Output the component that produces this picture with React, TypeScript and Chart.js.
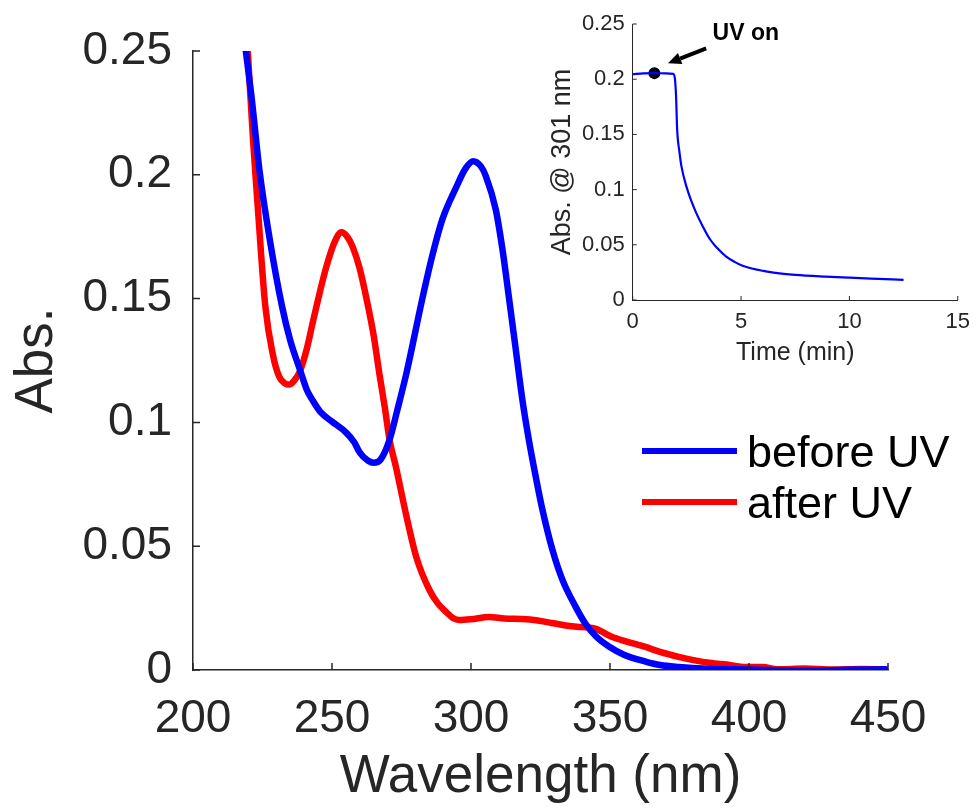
import React, { useEffect, useRef } from "react";
import { Chart, registerables } from "chart.js";

Chart.register(...registerables);

const FONT = "'Liberation Sans', Arial, Helvetica, sans-serif";
const AXIS = "#262626";

// ---- Main spectrum data ----
const beforeWavelength = [
  219, 221, 224, 227.6, 232, 235, 238.4, 241, 243, 246, 250, 255, 258, 260, 263, 265,
  267.5, 270.7, 273.5, 276.8, 282.5, 286, 289.7, 294.7, 298, 300.8, 303.5, 305.3, 308.9,
  311.3, 313.7, 316.1, 318.5, 320.8, 323.3, 325.7, 329.3, 332.9, 337.6, 341, 345, 349.6,
  355, 362.8, 368, 374.7, 385, 400, 420, 435, 449,
];
const beforeAbs = [
  0.25, 0.232, 0.201, 0.174, 0.147, 0.133, 0.1215, 0.113, 0.109, 0.104, 0.1003, 0.096,
  0.092, 0.0878, 0.0845, 0.0837, 0.085, 0.093, 0.105, 0.12, 0.15, 0.167, 0.182, 0.195,
  0.2025, 0.2055, 0.2035, 0.1996, 0.186, 0.17, 0.15, 0.1295, 0.109, 0.093, 0.078, 0.0647,
  0.0485, 0.0364, 0.0256, 0.019, 0.0135, 0.0095, 0.0062, 0.0034, 0.002, 0.0012, 0.0005,
  0.0002, -0.0003, 0.0001, 0.0003,
];
const afterWavelength = [
  219.7, 221.6, 223.3, 226, 228.8, 231, 233, 234.8, 236.5, 238.4, 241, 243, 245.5, 248,
  251, 253.4, 255.5, 257.4, 260, 262.4, 265, 267, 269, 270.7, 273, 276.8, 280.3, 285,
  288, 291, 293.5, 295.8, 300, 306.5, 312, 318.4, 324, 329, 334, 338.8, 342, 345, 350.6,
  356, 362.8, 368, 374.7, 380, 386.5, 392, 398.7, 405, 410, 420, 430, 440, 449,
];
const afterAbs = [
  0.25, 0.214, 0.187, 0.147, 0.127, 0.1185, 0.1158, 0.1153, 0.117, 0.1205, 0.13, 0.14,
  0.152, 0.163, 0.173, 0.1768, 0.175, 0.171, 0.162, 0.15, 0.135, 0.12, 0.106, 0.093,
  0.082, 0.062, 0.0457, 0.0324, 0.027, 0.0235, 0.021, 0.0202, 0.0205, 0.0214, 0.0208,
  0.0206, 0.02, 0.019, 0.018, 0.0174, 0.0172, 0.0166, 0.0134, 0.0115, 0.0093, 0.0073,
  0.0053, 0.004, 0.0028, 0.0022, 0.0012, 0.0012, 0.0003, 0.0006, 0.0002, 0.0004, 0.0003,
];
const seriesLabels = ["before UV", "after UV"];
const mainXTicks = [200, 250, 300, 350, 400, 450];
const mainYTicks = [0, 0.05, 0.1, 0.15, 0.2, 0.25];
const mainXTitle = "Wavelength (nm)";
const mainYTitle = "Abs.";

// ---- Inset kinetics data ----
const insetTime = [
  0, 0.5, 1.0, 1.5, 1.87, 1.95, 2.0, 2.05, 2.15, 2.25, 2.48, 2.7, 2.94, 3.2, 3.55, 3.9,
  4.3, 4.7, 5.07, 5.5, 6.0, 6.6, 7.5, 8.9, 10, 11, 12.5,
];
const insetAbs = [
  0.2045, 0.2053, 0.2055, 0.2053, 0.2048, 0.2, 0.185, 0.155, 0.135, 0.121, 0.1027, 0.09,
  0.0785, 0.068, 0.0555, 0.047, 0.0395, 0.0345, 0.031, 0.0285, 0.0265, 0.0245, 0.0228,
  0.0212, 0.0202, 0.0194, 0.0183,
];
const insetXTicks = [0, 5, 10, 15];
const insetYTicks = [0, 0.05, 0.1, 0.15, 0.2, 0.25];
const insetXTitle = "Time (min)";
const insetYTitle = "Abs. @ 301 nm";
const uvOnTime = [1.0];
const uvOnAbs = [0.2055];
const uvOnLabel = "UV on";
const uvOnLabelAt = [5.22, 0.2416];
const uvArrowFrom = [3.39, 0.228];
const uvArrowTo = [1.63, 0.2144];

const toXY = (xs: number[], ys: number[]) => xs.map((x, i) => ({ x, y: ys[i] }));

function inwardTicks(id: string, len: number, width: number) {
  return {
    id,
    afterDatasetsDraw(chart: any) {
      const { ctx } = chart;
      const x = chart.scales.x;
      const y = chart.scales.y;
      ctx.save();
      ctx.strokeStyle = AXIS;
      ctx.lineWidth = width;
      ctx.beginPath();
      x.ticks.forEach((t: any) => {
        const p = x.getPixelForValue(t.value);
        ctx.moveTo(p, y.bottom);
        ctx.lineTo(p, y.bottom - len);
      });
      y.ticks.forEach((t: any) => {
        const p = y.getPixelForValue(t.value);
        ctx.moveTo(x.left, p);
        ctx.lineTo(x.left + len, p);
      });
      ctx.stroke();
      ctx.restore();
    },
  };
}

const mainLegend = {
  id: "mainLegend",
  afterDraw(chart: any) {
    const { ctx } = chart;
    ctx.save();
    chart.data.datasets.forEach((ds: any, i: number) => {
      const y = 451 + i * 51;
      ctx.strokeStyle = ds.borderColor;
      ctx.lineWidth = 6;
      ctx.lineCap = "butt";
      ctx.beginPath();
      ctx.moveTo(642, y);
      ctx.lineTo(737, y);
      ctx.stroke();
      ctx.fillStyle = "#000000";
      ctx.font = `45px ${FONT}`;
      ctx.textAlign = "left";
      ctx.textBaseline = "alphabetic";
      ctx.fillText(ds.label, 747, y + 16);
    });
    ctx.restore();
  },
};

const insetAnnotation = {
  id: "insetAnnotation",
  afterDatasetsDraw(chart: any) {
    const { ctx } = chart;
    const x = chart.scales.x;
    const y = chart.scales.y;
    const x1 = x.getPixelForValue(uvArrowFrom[0]);
    const y1 = y.getPixelForValue(uvArrowFrom[1]);
    const x2 = x.getPixelForValue(uvArrowTo[0]);
    const y2 = y.getPixelForValue(uvArrowTo[1]);
    const ang = Math.atan2(y2 - y1, x2 - x1);
    const headLen = 13;
    const headW = 6;
    const bx = x2 - headLen * Math.cos(ang);
    const by = y2 - headLen * Math.sin(ang);
    ctx.save();
    ctx.strokeStyle = "#000000";
    ctx.fillStyle = "#000000";
    ctx.lineWidth = 4;
    ctx.beginPath();
    ctx.moveTo(x1, y1);
    ctx.lineTo(bx, by);
    ctx.stroke();
    ctx.beginPath();
    ctx.moveTo(x2, y2);
    ctx.lineTo(bx + headW * Math.sin(ang), by - headW * Math.cos(ang));
    ctx.lineTo(bx - headW * Math.sin(ang), by + headW * Math.cos(ang));
    ctx.closePath();
    ctx.fill();
    ctx.font = `bold 23px ${FONT}`;
    ctx.textAlign = "center";
    ctx.textBaseline = "middle";
    ctx.fillText(uvOnLabel, x.getPixelForValue(uvOnLabelAt[0]), y.getPixelForValue(uvOnLabelAt[1]));
    ctx.restore();
  },
};

export default function App() {
  const mainRef = useRef<HTMLCanvasElement | null>(null);
  const insetRef = useRef<HTMLCanvasElement | null>(null);

  useEffect(() => {
    if (!mainRef.current || !insetRef.current) return;

    const main = new Chart(mainRef.current, {
      type: "line",
      data: {
        datasets: [
          {
            label: seriesLabels[0],
            data: toXY(beforeWavelength, beforeAbs),
            borderColor: "#0000FF",
            borderWidth: 6.5,
            pointRadius: 0,
            cubicInterpolationMode: "monotone",
            borderJoinStyle: "round",
            borderCapStyle: "round",
            fill: false,
          },
          {
            label: seriesLabels[1],
            data: toXY(afterWavelength, afterAbs),
            borderColor: "#FF0000",
            borderWidth: 6.5,
            pointRadius: 0,
            cubicInterpolationMode: "monotone",
            borderJoinStyle: "round",
            borderCapStyle: "round",
            fill: false,
          },
        ],
      },
      options: {
        responsive: false,
        animation: false,
        devicePixelRatio: 1,
        layout: { padding: { top: 51, right: 91, bottom: 0, left: 0 } },
        plugins: { legend: { display: false }, tooltip: { enabled: false } },
        scales: {
          x: {
            type: "linear",
            min: 200,
            max: 450,
            afterBuildTicks: (s: any) => {
              s.ticks = mainXTicks.map((v) => ({ value: v }));
            },
            afterFit: (s: any) => {
              s.height = 142;
            },
            grid: { display: false, drawTicks: false },
            border: { display: true, color: AXIS, width: 1.5 },
            ticks: {
              color: AXIS,
              font: { family: FONT, size: 46 },
              padding: 22,
              maxRotation: 0,
              autoSkip: false,
              callback: (v: any) => String(v),
            },
            title: {
              display: true,
              text: mainXTitle,
              color: AXIS,
              font: { family: FONT, size: 53 },
              padding: { top: 0, bottom: 3 },
            },
          },
          y: {
            type: "linear",
            min: 0,
            max: 0.25,
            afterBuildTicks: (s: any) => {
              s.ticks = mainYTicks.map((v) => ({ value: v }));
            },
            afterFit: (s: any) => {
              s.width = 193;
            },
            grid: { display: false, drawTicks: false },
            border: { display: true, color: AXIS, width: 1.5 },
            ticks: {
              color: AXIS,
              font: { family: FONT, size: 46 },
              padding: 21,
              autoSkip: false,
              callback: (v: any) => String(v),
            },
            title: {
              display: true,
              text: mainYTitle,
              color: AXIS,
              font: { family: FONT, size: 53 },
              padding: { top: 6, bottom: 0 },
            },
          },
        },
      } as any,
      plugins: [inwardTicks("mainTicks", 7, 1.5), mainLegend],
    });

    const inset = new Chart(insetRef.current, {
      type: "line",
      data: {
        datasets: [
          {
            label: "kinetics",
            data: toXY(insetTime, insetAbs),
            borderColor: "#0000FF",
            borderWidth: 2.2,
            pointRadius: 0,
            cubicInterpolationMode: "monotone",
            fill: false,
          },
          {
            label: "UV on",
            data: toXY(uvOnTime, uvOnAbs),
            showLine: false,
            pointRadius: 6,
            pointBackgroundColor: "#000000",
            pointBorderColor: "#000000",
            pointBorderWidth: 0,
          },
        ],
      },
      options: {
        responsive: false,
        animation: false,
        devicePixelRatio: 1,
        layout: { padding: { top: 24, right: 19, bottom: 0, left: 0 } },
        plugins: { legend: { display: false }, tooltip: { enabled: false } },
        scales: {
          x: {
            type: "linear",
            min: 0,
            max: 15,
            afterBuildTicks: (s: any) => {
              s.ticks = insetXTicks.map((v) => ({ value: v }));
            },
            afterFit: (s: any) => {
              s.height = 80;
            },
            grid: { display: false, drawTicks: false },
            border: { display: true, color: AXIS, width: 1 },
            ticks: {
              color: AXIS,
              font: { family: FONT, size: 22 },
              padding: 9,
              maxRotation: 0,
              autoSkip: false,
              callback: (v: any) => String(v),
            },
            title: {
              display: true,
              text: insetXTitle,
              color: AXIS,
              font: { family: FONT, size: 25 },
              padding: { top: 0, bottom: 12 },
            },
          },
          y: {
            type: "linear",
            min: 0,
            max: 0.25,
            afterBuildTicks: (s: any) => {
              s.ticks = insetYTicks.map((v) => ({ value: v }));
            },
            afterFit: (s: any) => {
              s.width = 102.7;
            },
            grid: { display: false, drawTicks: false },
            border: { display: true, color: AXIS, width: 1 },
            ticks: {
              color: AXIS,
              font: { family: FONT, size: 22 },
              padding: 8,
              autoSkip: false,
              callback: (v: any) => String(v),
            },
            title: {
              display: true,
              text: insetYTitle,
              color: AXIS,
              font: { family: FONT, size: 27 },
              padding: { top: 16, bottom: 0 },
            },
          },
        },
      } as any,
      plugins: [inwardTicks("insetTicks", 4, 1), insetAnnotation],
    });

    return () => {
      main.destroy();
      inset.destroy();
    };
  }, []);

  return (
    <div style={{ position: "absolute", left: 0, top: 0, width: 979, height: 812, background: "#ffffff" }}>
      <canvas
        ref={mainRef}
        width={979}
        height={812}
        style={{ position: "absolute", left: 0, top: 0, width: 979, height: 812 }}
      />
      <canvas
        ref={insetRef}
        width={449}
        height={380}
        style={{ position: "absolute", left: 530, top: 0, width: 449, height: 380 }}
      />
    </div>
  );
}
